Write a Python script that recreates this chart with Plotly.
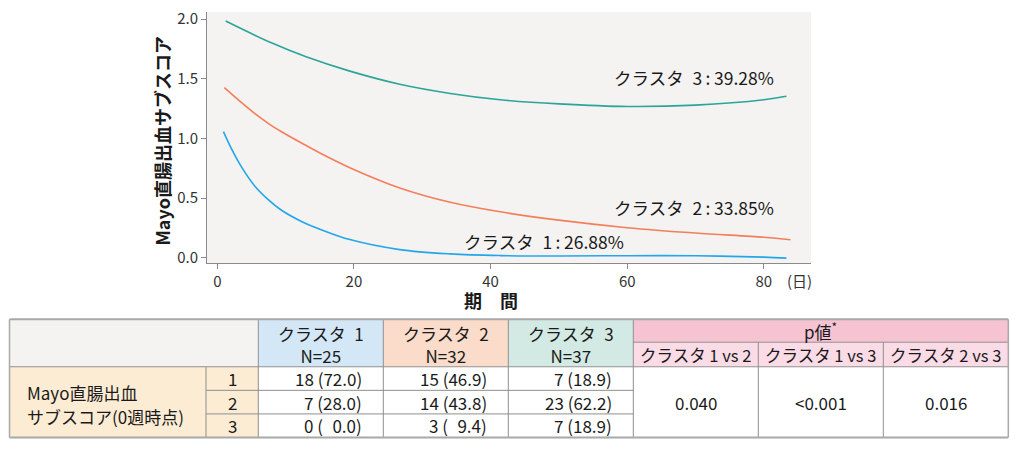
"""
Mayo rectal bleeding subscore trajectories by cluster, with baseline table
"""

import plotly.graph_objects as go

# Curve data (day, subscore)
days_c1 = [0.9, 2.1, 3.6, 5.5, 7.5, 9.4, 12.4, 15.3, 19.4, 26.7, 34.1, 41.4, 50, 60, 70, 80, 83.3]
score_c1 = [1.057, 0.91, 0.755, 0.60, 0.485, 0.398, 0.302, 0.233, 0.152, 0.068, 0.032, 0.018,
            0.014, 0.017, 0.016, 0.005, -0.003]

days_c2 = [1.03, 3.6, 5.5, 7.5, 9.4, 12.4, 15.3, 19.4, 26.7, 34.1, 41.4, 50, 60, 70, 80, 83.9]
score_c2 = [1.427, 1.298, 1.208, 1.125, 1.057, 0.96, 0.87, 0.755, 0.585, 0.465, 0.385, 0.315,
            0.252, 0.207, 0.172, 0.151]

days_c3 = [1.22, 8.0, 13.0, 19.4, 26.7, 34.1, 41.4, 50, 60, 70, 80, 83.3]
score_c3 = [1.985, 1.80, 1.685, 1.565, 1.455, 1.378, 1.325, 1.29, 1.268, 1.28, 1.325, 1.354]

curve_labels = ["クラスタ 1：26.88%", "クラスタ 2：33.85%", "クラスタ 3：39.28%"]
label_x = [47.8, 69.8, 69.8]
label_y = [0.135, 0.425, 1.51]

x_ticks = [0, 20, 40, 60, 80]
y_ticks = [0.0, 0.5, 1.0, 1.5, 2.0]

# Table data
cluster_names = ["クラスタ 1", "クラスタ 2", "クラスタ 3"]
cluster_n = [25, 32, 37]
score_levels = ["1", "2", "3"]
counts = [[18, 7, 0], [15, 14, 3], [7, 23, 7]]
percents = [[72.0, 28.0, 0.0], [46.9, 43.8, 9.4], [18.9, 62.2, 18.9]]
p_labels = ["クラスタ 1 vs 2", "クラスタ 1 vs 3", "クラスタ 2 vs 3"]
p_values = ["0.040", "<0.001", "0.016"]

colors = ["#23a6ea", "#f47e5a", "#2aa597"]
header_fills = ["#d3e7f6", "#fbdccb", "#d3e9e3"]

W, H = 1018, 452
FONT = "Noto Sans CJK JP"
TXT = "#1a1a1a"


def px(x):
    return x / W


def py(y):
    return 1 - y / H


def wide(s):
    # wider gap after katakana, tight colon, like the original typesetting
    return s.replace("：", "\u2009:\u2009").replace(" ", "\u2002")


fig = go.Figure()

for d, s, c in zip([days_c1, days_c2, days_c3], [score_c1, score_c2, score_c3], colors):
    fig.add_trace(go.Scatter(x=d, y=s, mode="lines", line=dict(color=c, width=1.6, shape="spline"),
                             hoverinfo="skip"))

for t, lx, ly in zip(curve_labels, label_x, label_y):
    fig.add_annotation(x=lx, y=ly, xref="x", yref="y", text=wide(t), showarrow=False,
                       xanchor="center", yanchor="middle", font=dict(size=17.5, color=TXT))

fig.update_layout(
    width=W, height=H,
    margin=dict(l=0, r=0, t=0, b=0),
    paper_bgcolor="white",
    plot_bgcolor="#f4f3f2",
    font=dict(family=FONT, size=15, color="#333"),
    showlegend=False,
    xaxis=dict(domain=[px(207), px(811)], range=[-1.51, 86.9], tickvals=x_ticks,
               showgrid=False, zeroline=False, showline=True, linecolor="#8a8a8a", linewidth=1,
               ticks="outside", ticklen=5, tickcolor="#8a8a8a", tickfont=dict(size=15, color="#333")),
    yaxis=dict(domain=[py(264), py(8)], range=[-0.047, 2.062], tickvals=y_ticks, tickformat=".1f",
               showgrid=False, zeroline=False, showline=True, linecolor="#8a8a8a", linewidth=1,
               ticks="outside", ticklen=5, tickcolor="#8a8a8a", tickfont=dict(size=15, color="#333")),
)

# Axis titles
fig.add_annotation(x=px(491), y=py(301), xref="paper", yref="paper", text="<b>期　間</b>",
                   showarrow=False, xanchor="center", yanchor="middle", font=dict(size=18, color=TXT))
fig.add_annotation(x=px(162), y=py(140), xref="paper", yref="paper", text="<b>Mayo直腸出血サブスコア</b>",
                   showarrow=False, xanchor="center", yanchor="middle", textangle=-90,
                   font=dict(size=18, color=TXT))
fig.add_annotation(x=px(799), y=py(281), xref="paper", yref="paper", text="(日)",
                   showarrow=False, xanchor="center", yanchor="middle", font=dict(size=15, color="#333"))

# ---- Table ----
x_left, x_a, x_b = 9.5, 206, 258.3
col_w = 125
x_cols = [x_b + i * col_w for i in range(7)]  # 258.3 ... 1008.3
y_top, y_mid, y_head = 321, 344.3, 369.3
row_h = 24
y_rows = [y_head + i * row_h for i in range(4)]
y_bot = y_rows[-1]


def rect(x0, y0, x1, y1, fill):
    fig.add_shape(type="rect", xref="paper", yref="paper", x0=px(x0), x1=px(x1), y0=py(y1), y1=py(y0),
                  fillcolor=fill, line=dict(width=0), layer="below")


def line(x0, y0, x1, y1, color="#8f8f8f", width=1):
    fig.add_shape(type="line", xref="paper", yref="paper", x0=px(x0), x1=px(x1), y0=py(y0), y1=py(y1),
                  line=dict(color=color, width=width))


def text(x, y, t, anchor="center", size=17):
    fig.add_annotation(x=px(x), y=py(y), xref="paper", yref="paper", text=t, showarrow=False,
                       xanchor=anchor, yanchor="middle", font=dict(size=size, color=TXT, family=FONT))


# fills
rect(x_left, y_top, x_b, y_head, "#f4f3f2")
rect(x_left, y_head, x_b, y_bot, "#fdecd4")
for i, f in enumerate(header_fills):
    rect(x_cols[i], y_top, x_cols[i + 1], y_head, f)
rect(x_cols[3], y_top, x_cols[6], y_mid, "#f5c3d2")
rect(x_cols[3], y_mid, x_cols[6], y_head, "#fbdbe6")
rect(x_cols[0], y_head, x_cols[6], y_bot, "white")

# grid lines
line(x_left, y_head, x_cols[6], y_head)
line(x_cols[3], y_mid, x_cols[6], y_mid)
for yr in y_rows[1:3]:
    line(x_a, yr, x_cols[3], yr)
line(x_a, y_head, x_a, y_bot)
for xc in x_cols[0:4]:
    line(xc, y_top, xc, y_bot)
for xc in x_cols[4:6]:
    line(xc, y_mid, xc, y_bot)
# outer border
line(x_left, y_top, x_cols[6], y_top, "#a8a8a8", 2)
line(x_left, y_bot, x_cols[6], y_bot, "#a8a8a8", 2)
line(x_left, y_top, x_left, y_bot, "#a8a8a8", 1.5)
line(x_cols[6], y_top, x_cols[6], y_bot, "#a8a8a8", 1.5)

# header text
for i, (name, n) in enumerate(zip(cluster_names, cluster_n)):
    cx = (x_cols[i] + x_cols[i + 1]) / 2
    text(cx, 346.5, f"{wide(name)}<br>N={n}")
text((x_cols[3] + x_cols[6]) / 2, 332.5, "p値<sup>*</sup>")
for i, lab in enumerate(p_labels):
    text((x_cols[3 + i] + x_cols[4 + i]) / 2, 357, lab, size=16.5)

# row header
text(25, 396, "Mayo直腸出血", anchor="left")
text(25, 420, "サブスコア(0週時点)", anchor="left")
for j, lev in enumerate(score_levels):
    text((x_a + x_b) / 2, y_rows[j] + row_h / 2, lev)

# cells
fs = "\u2007"
for i in range(3):
    for j in range(3):
        pct = f"{percents[i][j]:.1f}"
        pct = fs * (4 - len(pct)) + pct
        text(x_cols[i + 1] - 19, y_rows[j] + row_h / 2, f"{counts[i][j]} ({pct})", anchor="right")

for i, pv in enumerate(p_values):
    text((x_cols[3 + i] + x_cols[4 + i]) / 2, (y_head + y_bot) / 2, pv.replace("<", "&lt;"))

fig.write_html("out.html", config={"displayModeBar": False},
               post_script="document.body.style.margin='0';")
